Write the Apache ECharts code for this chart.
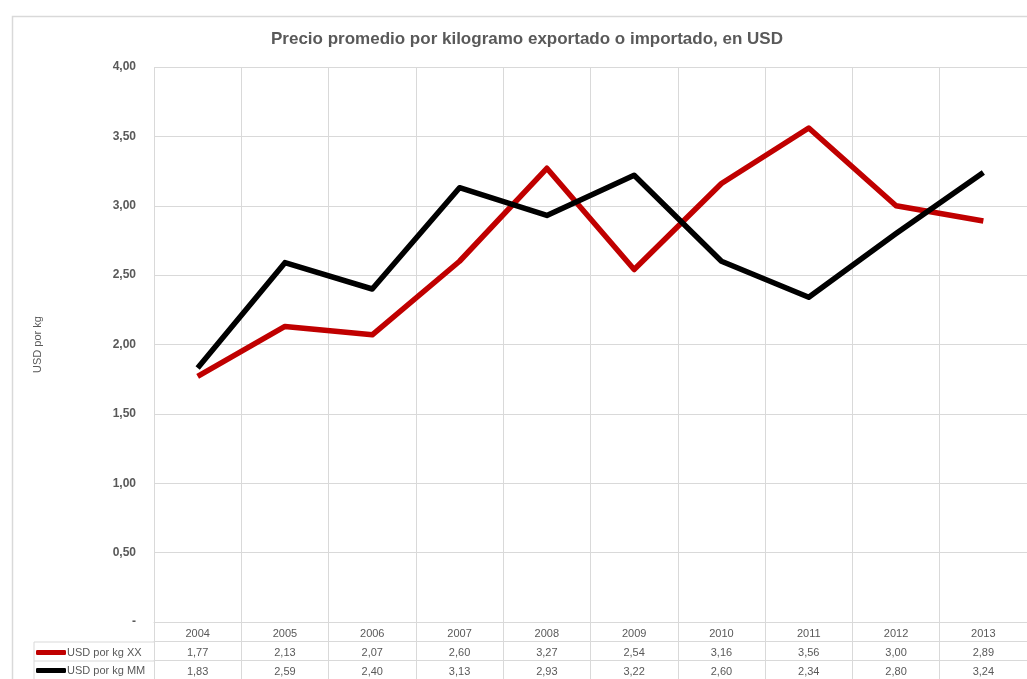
<!DOCTYPE html>
<html>
<head>
<meta charset="utf-8">
<script src="https://cdn.jsdelivr.net/npm/echarts@6/dist/echarts.min.js"></script>
<style>
  html, body { margin: 0; padding: 0; background: #fff; }
  #main { width: 1027px; height: 679px; }
</style>
</head>
<body>
<div id="main"></div>
<script>
  var years = ['2004', '2005', '2006', '2007', '2008', '2009', '2010', '2011', '2012', '2013'];
  var usdXX = [1.77, 2.13, 2.07, 2.60, 3.27, 2.54, 3.16, 3.56, 3.00, 2.89];
  var usdMM = [1.83, 2.59, 2.40, 3.13, 2.93, 3.22, 2.60, 2.34, 2.80, 3.24];
  var seriesNames = ['USD por kg XX', 'USD por kg MM'];

  var gray = '#595959';
  var lineGray = '#d9d9d9';
  var font = 'Liberation Sans';

  function comma(v) {
    return v.toFixed(2).replace('.', ',');
  }

  // one extra category axis per table row, offset under the plot
  function tableAxis(values, offset) {
    return {
      type: 'category',
      data: years,
      position: 'bottom',
      offset: offset,
      axisLine: { show: true, lineStyle: { color: lineGray } },
      axisTick: { show: false },
      splitLine: { show: false },
      axisLabel: {
        interval: 0, margin: 6, color: gray, fontSize: 11, fontFamily: font,
        formatter: function (v, i) { return comma(values[i]); }
      }
    };
  }

  // legend key for one table row
  function rowLegend(name, top) {
    return {
      left: 36,
      top: top,
      padding: 0,
      itemWidth: 30,
      itemHeight: 5,
      icon: 'roundRect',
      data: [name],
      textStyle: { color: gray, fontSize: 11, fontFamily: font, padding: [0, 0, 0, -4] }
    };
  }

  var myChart = echarts.init(document.getElementById('main'));
  myChart.setOption({
    animation: false,
    textStyle: { fontFamily: font },
    title: {
      text: 'Precio promedio por kilogramo exportado o importado, en USD',
      left: 266,
      top: 26,
      textStyle: { fontSize: 17, fontWeight: 'bold', color: gray, fontFamily: font }
    },
    legend: [rowLegend(seriesNames[0], 647), rowLegend(seriesNames[1], 665)],
    grid: { left: 154, right: 0, top: 67, bottom: 57, containLabel: false },
    color: ['#c00000', '#000000'],
    xAxis: [
      {
        type: 'category',
        data: years,
        boundaryGap: true,
        axisLine: { show: true, lineStyle: { color: lineGray } },
        axisTick: { show: true, interval: 0, length: 57, lineStyle: { color: lineGray } },
        splitLine: { show: true, interval: 0, lineStyle: { color: lineGray } },
        axisLabel: { interval: 0, margin: 6, color: gray, fontSize: 11, fontFamily: font }
      },
      tableAxis(usdXX, 19),
      tableAxis(usdMM, 38)
    ],
    yAxis: {
      type: 'value',
      min: 0,
      max: 4,
      interval: 0.5,
      name: 'USD por kg',
      nameLocation: 'middle',
      nameGap: 111,
      nameTextStyle: { color: gray, fontSize: 11, fontFamily: font },
      axisLine: { show: false },
      axisTick: { show: false },
      splitLine: { lineStyle: { color: lineGray } },
      axisLabel: {
        margin: 18, color: gray, fontSize: 12, fontWeight: 'bold', fontFamily: font,
        formatter: function (v) { return v === 0 ? '-' : comma(v); }
      }
    },
    series: [
      {
        name: seriesNames[0],
        type: 'line',
        data: usdXX,
        symbol: 'none',
        lineStyle: { width: 5.5, color: '#c00000', join: 'round' }
      },
      {
        name: seriesNames[1],
        type: 'line',
        data: usdMM,
        symbol: 'none',
        lineStyle: { width: 5.5, color: '#000000', join: 'round' }
      }
    ],
    graphic: [
      // chart frame
      { type: 'rect', left: 10, top: 14, shape: { width: 1100, height: 700 },
        style: { fill: 'none', stroke: lineGray, lineWidth: 1.5 }, silent: true },
      // table left part (legend column)
      { type: 'line', shape: { x1: 34, y1: 642, x2: 154, y2: 642 }, style: { stroke: lineGray } },
      { type: 'line', shape: { x1: 34, y1: 661, x2: 154, y2: 661 }, style: { stroke: lineGray } },
      { type: 'line', shape: { x1: 34, y1: 642, x2: 34, y2: 679 }, style: { stroke: lineGray } }
    ]
  });
</script>
</body>
</html>
